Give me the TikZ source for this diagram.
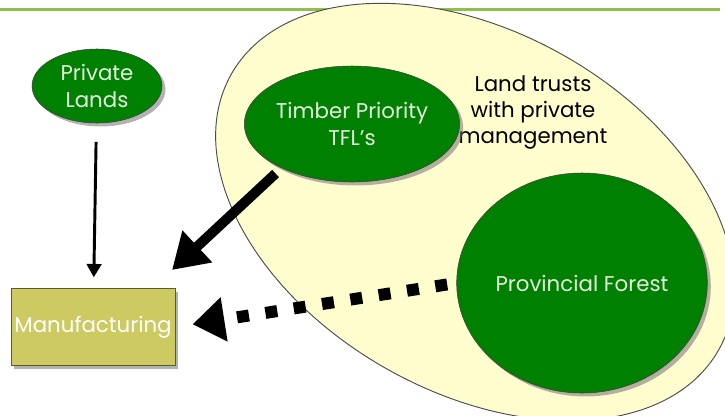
\documentclass[tikz,border=0pt]{standalone}
\usepackage{fontspec}
\setmainfont{Poppins}
\usetikzlibrary{shapes.geometric,shadows,arrows.meta}
\definecolor{forestGreen}{RGB}{0,128,0}
\definecolor{paleCream}{RGB}{255,252,206}
\definecolor{millOlive}{RGB}{205,202,98}
\definecolor{ruleGreen}{RGB}{146,190,80}
\definecolor{blobText}{RGB}{228,240,222}
\tikzset{
  softShadow/.style={drop shadow={shadow xshift=2.6pt,shadow yshift=-2.6pt,fill=black!55,opacity=0.55}},
  forestNode/.style={ellipse,draw=black!75,line width=0.4pt,fill=forestGreen,text=blobText,
    align=center,inner sep=0pt,softShadow,font=\fontsize{16}{20}\selectfont},
  millBox/.style={rectangle,draw=black!55!millOlive,line width=0.6pt,fill=millOlive,text=white,
    inner sep=0pt,softShadow,font=\fontsize{16}{18}\selectfont},
  thinArrow/.style={line width=2.2pt,-{Triangle[length=10pt,width=11pt]}},
  bigArrow/.style={line width=7.5pt,-{Triangle[length=26pt,width=31pt]}},
  dotArrow/.style={line width=9pt,dash pattern=on 9pt off 12.5pt,-{Triangle[length=24pt,width=32pt]}}
}

\begin{document}
\begin{tikzpicture}[x=0.75pt,y=-0.75pt]
\useasboundingbox (0,0) rectangle (725,415);
\clip (0,0) rectangle (725,415);

% rule under the heading
\draw[ruleGreen,line width=2.4pt] (0,9.5) -- (720,9.5);

% land trusts area
\node[ellipse,draw=black!70,line width=0.7pt,fill=paleCream,minimum width=420pt,minimum height=270pt,
  rotate=-29.5,inner sep=0pt] (trusts) at (475,212) {};
\node[align=center,font=\fontsize{16}{19.5}\selectfont] (trustsLabel) at (533,112)
  {Land trusts\\with private\\management};

% sources
\node[forestNode,minimum width=97.5pt,minimum height=55.5pt] (priv) at (97,86) {Private\\Lands};
\node[forestNode,minimum width=139.5pt,minimum height=87pt] (tfl) at (352,124) {Timber Priority\\TFL’s};
\node[forestNode,minimum width=188pt,minimum height=165pt] (prov) at (582,283) {Provincial Forest};

% mill
\node[millBox,minimum width=123pt,minimum height=58pt] (manu) at (93,327) {Manufacturing};
\coordinate (tflTip) at (172,270);

% flows
\draw[thinArrow,shorten <=14pt,shorten >=8pt] (priv) -- (manu);
\draw[bigArrow,shorten <=6pt] (tfl.212) -- (tflTip);
\draw[dotArrow,shorten <=7pt,shorten >=13pt] (prov.west) -- (manu.east);
\end{tikzpicture}
\end{document}
